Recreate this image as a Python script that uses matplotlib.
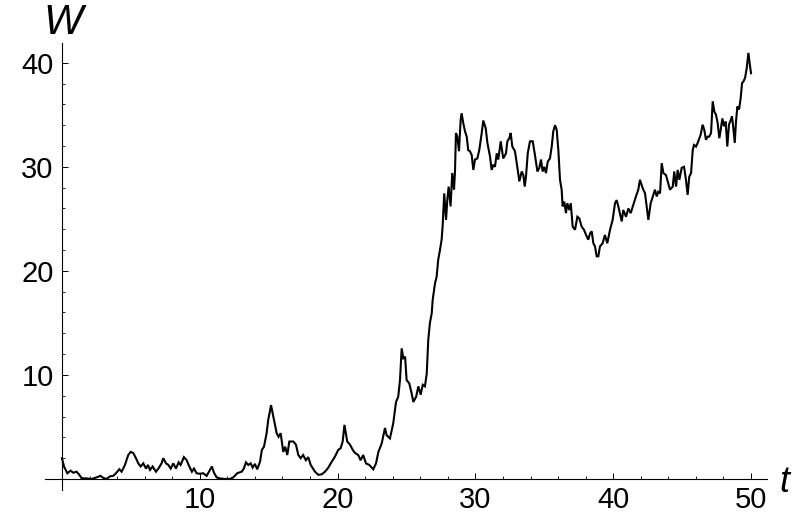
import matplotlib
matplotlib.use("Agg")
import matplotlib.pyplot as plt
from matplotlib.ticker import FixedLocator

plt.rcParams['font.family'] = ['Liberation Sans', 'DejaVu Sans']

t_vals = [
    0.0, 0.15, 0.39, 0.63, 0.82, 1.06, 1.26, 1.43, 1.79, 2.15, 2.5, 2.8, 3.0, 3.24, 3.48, 3.72, 3.92,
    4.16, 4.33, 4.57, 4.81, 4.98, 5.17, 5.37, 5.54, 5.71, 5.9, 6.1, 6.24, 6.39, 6.58, 6.82, 7.0, 7.23,
    7.35, 7.55, 7.72, 7.89, 8.08, 8.27, 8.47, 8.61, 8.85, 9.05, 9.24, 9.43, 9.58, 9.77,
    10.0, 10.25, 10.5, 10.74, 10.88, 11.03, 11.23, 11.47, 11.83, 12.19, 12.43, 12.72, 13.04, 13.2,
    13.35, 13.52, 13.69, 13.84, 14.0, 14.17, 14.37, 14.51, 14.66, 14.85, 14.97, 15.09, 15.17, 15.29,
    15.44, 15.58, 15.72, 15.87,
    16.06, 16.2, 16.35, 16.5, 16.79, 16.98, 17.15, 17.32, 17.5, 17.7, 17.87, 18.05, 18.36, 18.6,
    18.85, 19.09, 19.33, 19.57, 19.81, 20.05, 20.22, 20.37, 20.5, 20.6, 20.7, 20.9, 21.1, 21.26,
    21.5, 21.67, 21.86, 22.06, 22.3, 22.59, 22.79, 22.96, 23.2, 23.44, 23.56, 23.8,
    24.04, 24.24, 24.4, 24.53, 24.65, 24.77, 24.9, 25.01, 25.2, 25.37, 25.5, 25.7, 25.86, 26.03,
    26.18, 26.34, 26.47, 26.58, 26.7, 26.83, 26.9, 27.07, 27.19, 27.3, 27.43, 27.55, 27.62, 27.74,
    27.87, 27.96, 28.06, 28.2, 28.32, 28.45, 28.52, 28.59, 28.69, 28.81, 28.93, 29.0, 29.12, 29.25,
    29.37, 29.48, 29.6, 29.73, 29.85, 29.97, 30.14, 30.28, 30.46, 30.57, 30.75, 30.87,
    31.06, 31.18, 31.3, 31.42, 31.55, 31.66, 31.84, 32.02, 32.22, 32.32, 32.46, 32.56, 32.68, 32.87,
    33.04, 33.19, 33.36, 33.48, 33.58, 33.67, 33.8, 33.96, 34.16, 34.32, 34.5, 34.64, 34.76, 34.88,
    35.0, 35.12, 35.25, 35.41, 35.54, 35.65, 35.78, 35.9, 36.02, 36.14, 36.26, 36.33, 36.45, 36.57,
    36.67, 36.81, 36.92, 37.06, 37.23, 37.4, 37.54, 37.71, 37.88, 38.03, 38.19, 38.32, 38.44, 38.56,
    38.68, 38.8, 38.92, 39.04, 39.23, 39.4, 39.57, 39.77, 39.96, 40.13, 40.25, 40.37,
    40.62, 40.73, 40.93, 41.1, 41.27, 41.46, 41.65, 41.82, 41.94, 42.14, 42.31, 42.43, 42.55, 42.72,
    42.91, 43.03, 43.16, 43.27, 43.4, 43.52, 43.64, 43.83, 44.0, 44.12, 44.32, 44.43, 44.56, 44.68,
    44.8, 44.97, 45.14, 45.28, 45.4, 45.52, 45.65, 45.77, 45.86, 46.01, 46.13, 46.25, 46.35, 46.49,
    46.61, 46.73, 46.86, 46.97, 47.1, 47.22, 47.34, 47.46, 47.58, 47.7, 47.8, 47.92, 48.04, 48.16,
    48.28, 48.4, 48.53, 48.62, 48.72, 48.82, 48.91, 49.01, 49.13, 49.25, 49.35, 49.45, 49.57, 49.69,
    49.81, 49.93, 50.0,
]

w_vals = [
    2.0, 1.2, 0.55, 0.8, 0.6, 0.7, 0.4, 0.07, 0.05, 0.0, 0.15, 0.3, 0.1, 0.0, 0.25, 0.3, 0.55,
    0.93, 0.7, 1.35, 2.3, 2.6, 2.5, 2.0, 1.5, 1.2, 1.5, 1.0, 1.35, 0.87, 1.2, 0.7, 1.0, 1.5,
    2.0, 1.5, 1.35, 1.0, 1.5, 1.0, 1.6, 1.35, 2.1, 1.8, 1.2, 0.7, 1.0, 0.55,
    0.5, 0.55, 0.3, 0.87, 1.2, 0.6, 0.15, 0.05, 0.0, 0.0, 0.15, 0.55, 0.7, 1.0,
    1.6, 1.35, 1.5, 1.1, 1.45, 0.93, 1.65, 2.8, 3.1, 4.4, 5.7, 6.5, 7.1, 6.3,
    5.35, 4.4, 4.05, 4.4,
    2.6, 3.1, 2.3, 3.6, 3.6, 3.3, 2.3, 2.0, 2.3, 1.8, 2.1, 1.35, 0.7, 0.4,
    0.45, 0.7, 1.1, 1.65, 2.15, 2.8, 2.95, 3.6, 5.2, 4.4, 3.6, 3.3, 2.8, 2.5,
    2.3, 1.8, 2.3, 1.5, 1.35, 0.93, 1.5, 2.6, 3.4, 4.9, 4.2, 3.9,
    5.35, 7.4, 7.9, 9.5, 12.55, 11.6, 11.75, 9.5, 9.2, 8.25, 7.4, 7.9, 8.9, 8.1,
    9.05, 8.9, 10.15, 13.35, 15.0, 15.9, 17.2, 18.8, 19.45, 21.05, 22.0, 23.0, 24.25, 27.45,
    24.9, 26.8, 28.1, 26.2, 29.4, 27.8, 29.55, 33.25, 32.9, 31.5, 34.5, 35.15, 34.2, 33.4,
    32.9, 31.6, 31.5, 31.15, 29.7, 30.7, 30.8, 31.6, 33.25, 34.45, 33.7, 32.3,
    31.0, 29.7, 30.2, 30.0, 31.3, 30.7, 32.45, 30.8, 31.3, 32.45, 32.75, 33.25, 31.95, 31.5,
    30.0, 28.6, 29.55, 29.2, 28.1, 29.05, 31.3, 32.45, 32.45, 31.15, 29.55, 29.9, 30.7, 29.55,
    30.0, 29.4, 30.5, 30.8, 31.95, 33.4, 34.0, 33.55, 31.6, 28.75, 27.8, 26.2, 26.65, 25.55,
    26.5, 25.85, 26.5, 24.25, 23.95, 25.2, 25.05, 24.25, 23.95, 23.45, 23.0, 23.6, 23.8, 22.65,
    22.35, 21.4, 21.4, 22.35, 22.65, 23.45, 22.65, 23.95, 24.9, 26.5, 26.8, 26.2,
    24.75, 25.85, 25.2, 26.0, 25.55, 26.35, 27.15, 27.8, 28.75, 27.95, 27.45, 26.2, 24.9, 26.5,
    27.3, 27.8, 27.15, 27.6, 27.45, 30.35, 29.4, 29.2, 28.4, 27.8, 28.1, 29.55, 28.1, 29.7,
    28.75, 29.9, 30.0, 28.75, 27.3, 29.05, 29.4, 31.6, 32.1, 31.95, 32.3, 32.75, 33.1, 34.05,
    33.55, 32.6, 32.9, 32.9, 33.25, 36.3, 35.3, 35.0, 34.2, 32.75, 33.55, 34.65, 33.9, 34.35,
    31.95, 34.05, 34.5, 34.85, 33.7, 32.3, 34.35, 35.8, 35.5, 36.6, 38.05, 38.2, 38.55, 39.5,
    40.95, 39.65, 39.0,
]

x_major = [10, 20, 30, 40, 50]
y_major = [10, 20, 30, 40]

fig = plt.figure(figsize=(7.96, 5.16), dpi=100)
ax = fig.add_axes([45/796, 1 - 490/516, 722/796, 447/516])

ax.plot(t_vals, w_vals, color='black', lw=1.5, solid_joinstyle='miter')

ax.set_xlim(-1.23, 51.16)
ax.set_ylim(-1.06, 41.9)

for s in ['top', 'right']:
    ax.spines[s].set_visible(False)
ax.spines['left'].set_position(('data', 0))
ax.spines['bottom'].set_position(('data', 0))
for s in ['left', 'bottom']:
    ax.spines[s].set_linewidth(0.8)

ax.xaxis.set_major_locator(FixedLocator(x_major))
ax.yaxis.set_major_locator(FixedLocator(y_major))
ax.xaxis.set_minor_locator(FixedLocator([v for v in range(2, 51, 2) if v % 10 != 0]))
ax.yaxis.set_minor_locator(FixedLocator([v for v in range(2, 41, 2) if v % 10 != 0]))
ax.set_xticklabels([str(v) for v in x_major])
ax.set_yticklabels([str(v) for v in y_major])

ax.tick_params(which='major', direction='in', length=4, width=0.7, labelsize=21)
ax.tick_params(which='minor', direction='in', length=2.5, width=0.6)
ax.tick_params(axis='y', which='major', pad=6)
ax.tick_params(axis='x', which='major', pad=5)

fig.text(63/796, 1 - 23/516, 'W', fontsize=30, style='italic', ha='center', va='center')
fig.text(784/796, 1 - 482/516, 't', fontsize=26, style='italic', ha='center', va='center')

fig.savefig('out.png', dpi=100)
